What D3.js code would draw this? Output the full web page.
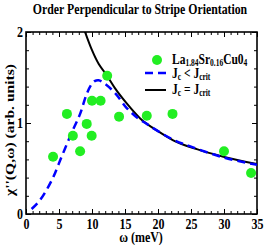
<!DOCTYPE html>
<html>
<head>
<meta charset="utf-8">
<script src="https://cdn.jsdelivr.net/npm/d3@7"></script>
<style>
  body { margin: 0; background: #fff; }
  text { font-family: "Liberation Serif", "Times New Roman", serif; font-weight: bold; fill: #000; }
</style>
</head>
<body>
<div id="chart"></div>
<script>
// data
let pointsOmega = [4.1, 6.2, 7.1, 8.2, 9.2, 9.95, 10.0, 11.3, 12.3, 14.1, 18.3, 22.2, 30.0, 34.1];
let pointsChi   = [0.63, 1.10, 0.86, 0.69, 0.99, 0.86, 1.245, 1.245, 1.52, 1.07, 1.08, 1.10, 0.69, 0.45];

let dashOmega = [0.85, 2.1, 3.9, 5.4, 6.9, 8.2, 9.1, 9.8, 10.4, 11.0, 12.0, 13.6, 15.2, 17.0, 18.3, 20, 22.5, 25, 30, 35];
let dashChi   = [0.055, 0.15, 0.37, 0.63, 0.89, 1.10, 1.30, 1.41, 1.46, 1.47, 1.43, 1.32, 1.17, 1.05, 0.99, 0.91, 0.81, 0.74, 0.62, 0.54];

let solidOmega = [8.8, 10, 11, 12.1, 13.5, 15.2, 17.3, 20, 22.3, 26, 29.9, 35];
let solidChi   = [2.03, 1.80, 1.65, 1.54, 1.38, 1.22, 1.05, 0.91, 0.81, 0.71, 0.63, 0.55];

let xTicks = [0, 5, 10, 15, 20, 25, 30, 35];
let yTicks = [0, 1, 2];

let width = 265, height = 245;
let margin = {left: 26, top: 32, right: 8, bottom: 31};
let w = width - margin.left - margin.right;
let h = height - margin.top - margin.bottom;
let sy = 1.3; // text in the picture is drawn taller than wide

let svg = d3.select("#chart")
    .append("svg")
    .attr("width", width)
    .attr("height", height);

let g = svg.append("g")
    .attr("transform", `translate(${margin.left}, ${margin.top})`);

let x = d3.scaleLinear().domain([0, 35]).range([0, w]);
let y = d3.scaleLinear().domain([0, 2]).range([h, 0]);

g.append("clipPath").attr("id", "clip")
    .append("rect").attr("width", w).attr("height", h);

// ticks on all four sides, pointing in
let xMinor = d3.range(0, 36, 1);
let yMinor = d3.range(0, 2.01, 0.2);

function addAxis(axis, tr) {
  let a = g.append("g").attr("transform", tr).call(axis);
  a.select(".domain").remove();
  a.selectAll("line").attr("stroke", "#000").attr("stroke-width", 1);
  return a;
}

addAxis(d3.axisBottom(x).tickValues(xMinor).tickSize(-3).tickFormat(""), `translate(0,${h})`);
addAxis(d3.axisTop(x).tickValues(xMinor).tickSize(-3).tickFormat(""), "translate(0,0)");
addAxis(d3.axisLeft(y).tickValues(yMinor).tickSize(-3).tickFormat(""), "translate(0,0)");
addAxis(d3.axisRight(y).tickValues(yMinor).tickSize(-3).tickFormat(""), `translate(${w},0)`);

let xAx = addAxis(d3.axisBottom(x).tickValues(xTicks).tickSize(-5).tickFormat(d3.format("d")), `translate(0,${h})`);
addAxis(d3.axisTop(x).tickValues(xTicks).tickSize(-5).tickFormat(""), "translate(0,0)");
let yAx = addAxis(d3.axisLeft(y).tickValues(yTicks).tickSize(-5).tickFormat(d3.format("d")), "translate(0,0)");
addAxis(d3.axisRight(y).tickValues(yTicks).tickSize(-5).tickFormat(""), `translate(${w},0)`);

// stretched tick labels
xAx.selectAll("text")
    .attr("y", null).attr("dy", null)
    .attr("transform", `translate(0,15) scale(1,${sy})`)
    .style("font-size", "12px").attr("fill", "#000");
yAx.selectAll("text")
    .attr("x", null).attr("dy", null)
    .attr("transform", `translate(-3,4.5) scale(1,${sy})`)
    .style("font-size", "12px").attr("fill", "#000");

// frame
g.append("rect")
    .attr("width", w).attr("height", h)
    .attr("fill", "none").attr("stroke", "#000").attr("stroke-width", 1.6);

let lines = g.append("g").attr("clip-path", "url(#clip)");

lines.append("path")
    .datum(d3.zip(solidOmega, solidChi))
    .attr("d", d3.line().x(d => x(d[0])).y(d => y(d[1])).curve(d3.curveMonotoneX))
    .attr("fill", "none")
    .attr("stroke", "#000")
    .attr("stroke-width", 2);

lines.append("path")
    .datum(d3.zip(dashOmega, dashChi))
    .attr("d", d3.line().x(d => x(d[0])).y(d => y(d[1])).curve(d3.curveCatmullRom))
    .attr("fill", "none")
    .attr("stroke", "#0000ff")
    .attr("stroke-width", 2.5)
    .attr("stroke-dasharray", "8,5");

g.selectAll("circle.pt")
    .data(d3.zip(pointsOmega, pointsChi))
    .enter()
    .append("circle")
    .attr("class", "pt")
    .attr("cx", d => x(d[0]))
    .attr("cy", d => y(d[1]))
    .attr("r", 5)
    .attr("fill", "#22ee22");

// helper: text placed at (tx,ty) and stretched vertically
function stretched(tx, ty, size, extra) {
  return svg.append("g")
      .attr("transform", `translate(${tx},${ty}) scale(1,${sy})` + (extra || ""))
      .append("text")
      .style("font-size", size + "px");
}

function subText(t, parts) {
  parts.forEach(p => {
    t.append("tspan").attr("dy", p[1] ? 2 : (p[2] ? -2 : 0))
        .style("font-size", p[1] ? "7.5px" : null).text(p[0]);
  });
}

// legend
svg.append("circle").attr("cx", 157).attr("cy", 60).attr("r", 5).attr("fill", "#22ee22");
subText(stretched(172, 63.5, 11.5), [["La"], ["1.84", 1], ["Sr", 0, 1], ["0.16", 1], ["Cu0", 0, 1], ["4", 1]]);

svg.append("line").attr("x1", 145).attr("x2", 166).attr("y1", 73).attr("y2", 73)
    .attr("stroke", "#0000ff").attr("stroke-width", 2.5).attr("stroke-dasharray", "8,5");
subText(stretched(172, 77.5, 11.5), [["J"], ["c", 1], [" < J", 0, 1], ["crit", 1]]);

svg.append("line").attr("x1", 145).attr("x2", 166).attr("y1", 90).attr("y2", 90)
    .attr("stroke", "#000").attr("stroke-width", 2);
subText(stretched(172, 93.5, 11.5), [["J"], ["c", 1], [" = J", 0, 1], ["crit", 1]]);

// title and axis labels
stretched(140, 13.5, 11.8)
    .style("text-anchor", "middle")
    .text("Order Perpendicular to Stripe Orientation");

stretched(141, 242, 12)
    .style("text-anchor", "middle")
    .text("ω (meV)");

stretched(14, 130, 12, " rotate(-90)")
    .style("text-anchor", "middle")
    .text("χ''(Q,ω) (arb. units)");
</script>
</body>
</html>
